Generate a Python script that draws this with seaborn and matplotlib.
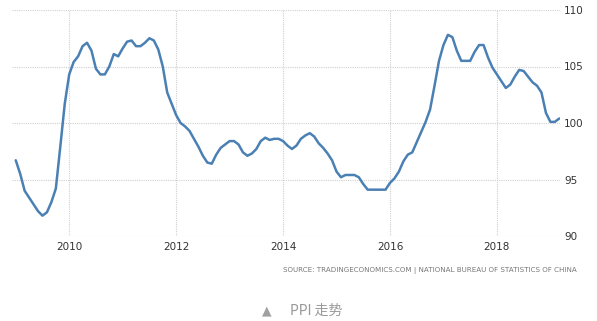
import matplotlib
matplotlib.use("Agg")
import matplotlib.pyplot as plt
import seaborn as sns
import pandas as pd
import numpy as np

# Monthly PPI (previous year = 100), Jan 2009 - Mar 2019
ppi_2009 = [96.7, 95.5, 94.0, 93.4, 92.8, 92.2, 91.8, 92.1, 93.0, 94.2, 97.9, 101.7]
ppi_2010 = [104.3, 105.4, 105.9, 106.8, 107.1, 106.4, 104.8, 104.3, 104.3, 105.0, 106.1, 105.9]
ppi_2011 = [106.6, 107.2, 107.3, 106.8, 106.8, 107.1, 107.5, 107.3, 106.5, 105.0, 102.7, 101.7]
ppi_2012 = [100.7, 100.0, 99.7, 99.3, 98.6, 97.9, 97.1, 96.5, 96.4, 97.2, 97.8, 98.1]
ppi_2013 = [98.4, 98.4, 98.1, 97.4, 97.1, 97.3, 97.7, 98.4, 98.7, 98.5, 98.6, 98.6]
ppi_2014 = [98.4, 98.0, 97.7, 98.0, 98.6, 98.9, 99.1, 98.8, 98.2, 97.8, 97.3, 96.7]
ppi_2015 = [95.7, 95.2, 95.4, 95.4, 95.4, 95.2, 94.6, 94.1, 94.1, 94.1, 94.1, 94.1]
ppi_2016 = [94.7, 95.1, 95.7, 96.6, 97.2, 97.4, 98.3, 99.2, 100.1, 101.2, 103.3, 105.5]
ppi_2017 = [106.9, 107.8, 107.6, 106.4, 105.5, 105.5, 105.5, 106.3, 106.9, 106.9, 105.8, 104.9]
ppi_2018 = [104.3, 103.7, 103.1, 103.4, 104.1, 104.7, 104.6, 104.1, 103.6, 103.3, 102.7, 100.9]
ppi_2019 = [100.1, 100.1, 100.4]

x_ticks = [2010, 2012, 2014, 2016, 2018]
y_ticks = [90, 95, 100, 105, 110]
source_text = "SOURCE: TRADINGECONOMICS.COM | NATIONAL BUREAU OF STATISTICS OF CHINA"
caption_text = "PPI 走势"

values = (ppi_2009 + ppi_2010 + ppi_2011 + ppi_2012 + ppi_2013 + ppi_2014 +
          ppi_2015 + ppi_2016 + ppi_2017 + ppi_2018 + ppi_2019)
t = [2009 + i / 12 for i in range(len(values))]
df = pd.DataFrame({"t": t, "ppi": values})

sns.set_style("white")
plt.rcParams['font.family'] = ['Noto Sans CJK SC', 'DejaVu Sans']

fig = plt.figure(figsize=(5.97, 3.21), dpi=100)
ax = fig.add_axes([12/597, 1 - 236/321, (560-12)/597, (236-10)/321])

sns.lineplot(data=df, x="t", y="ppi", ax=ax, color="#4a80b3", linewidth=1.8,
             solid_joinstyle="round", solid_capstyle="round")

ax.set_xlim(2008.93, 2019.18)
ax.set_ylim(90, 110)
ax.set_xticks(x_ticks)
ax.set_xticklabels([str(v) for v in x_ticks])
ax.set_yticks(y_ticks)
ax.set_yticklabels([str(v) for v in y_ticks])
ax.yaxis.tick_right()
ax.tick_params(axis='both', length=0, labelsize=7.5, colors="#333333", pad=3)
ax.tick_params(axis='x', pad=4)
for lab in ax.get_xticklabels() + ax.get_yticklabels():
    lab.set_family(['DejaVu Sans'])
ax.grid(True, color="#d0d0d0", linestyle=(0, (1, 1)), linewidth=0.8)
ax.set_xlabel("")
ax.set_ylabel("")
for s in ax.spines.values():
    s.set_visible(False)

fig.text(577/597, 1 - 271/321, source_text, ha="right", va="center",
         fontsize=5.15, color="#777777", family=['DejaVu Sans'])
fig.text(267/597, 1 - 311/321, "▲", ha="center", va="center",
         fontsize=9, color="#a0a0a0", family=['DejaVu Sans'])
fig.text(290/597, 1 - 311/321, caption_text, ha="left", va="center",
         fontsize=10, color="#999999")

fig.savefig("out.png", dpi=100)
